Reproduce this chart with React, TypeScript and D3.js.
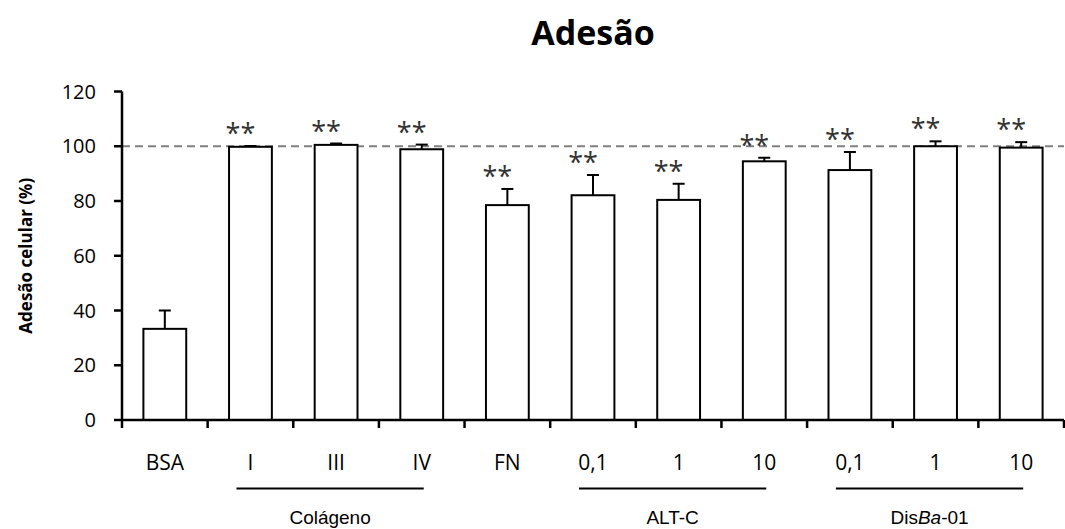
import React from "react";
import * as d3 from "d3";

const categories = ["BSA", "I", "III", "IV", "FN", "0,1", "1", "10", "0,1", "1", "10"];
const values = [33.3, 99.8, 100.5, 98.9, 78.5, 82.1, 80.4, 94.5, 91.3, 100.0, 99.5];
const errors = [6.7, 0.3, 0.5, 1.7, 5.9, 7.4, 5.9, 1.3, 6.6, 1.8, 2.0];
const significant = [false, true, true, true, true, true, true, true, true, true, true];
const yTicks = [0, 20, 40, 60, 80, 100, 120];
const groupLabels = ["Colágeno", "ALT-C", "DisBa-01"];
const groupFrom = [1, 5, 8];
const groupTo = [3, 7, 10];
const referenceValue = 100;

const W = 1065;
const H = 529;
const left = 122;
const right = 1064;
const top = 91.5;
const bottom = 420;

export default function App() {
  const ids = categories.map((_, i) => String(i));
  const x = d3.scaleBand<string>().domain(ids).range([left, right]).paddingInner(0.5).paddingOuter(0.25);
  const y = d3.scaleLinear().domain([0, 120]).range([bottom, top]);
  const step = x.step();
  const bw = x.bandwidth();
  const boundaries = d3.range(categories.length + 1).map((k) => left + k * step);
  const center = (i: number) => (x(String(i)) as number) + bw / 2;
  const font = "'Open Sans', sans-serif";

  return (
    <svg width={W} height={H} style={{ position: "absolute", left: 0, top: 0, background: "#fff" }}>
      <text x={(left + right) / 2} y={45} textAnchor="middle" fontFamily={font} fontWeight="bold" fontSize={34}>
        Adesão
      </text>
      <text
        transform={`translate(32,${(top + bottom) / 2}) rotate(-90)`}
        textAnchor="middle"
        fontFamily={font}
        fontWeight="bold"
        fontSize={17}
      >
        Adesão celular (%)
      </text>
      {/* reference line */}
      <line
        x1={left}
        x2={right}
        y1={y(referenceValue)}
        y2={y(referenceValue)}
        stroke="#808080"
        strokeWidth={2}
        strokeDasharray="8,5"
      />
      {/* bars */}
      {values.map((v, i) => {
        const cx = center(i);
        const et = y(v + errors[i]);
        return (
          <g key={i}>
            <rect x={x(String(i))} y={y(v)} width={bw} height={bottom - y(v)} fill="#fff" stroke="#000" strokeWidth={2} />
            <line x1={cx} x2={cx} y1={y(v)} y2={et} stroke="#000" strokeWidth={2} />
            <line x1={cx - 6} x2={cx + 6} y1={et} y2={et} stroke="#000" strokeWidth={2} />
            {significant[i] && (
              <text x={cx - 10} y={et - 3} textAnchor="middle" fontFamily={font} fontSize={27} fill="#333">
                **
              </text>
            )}
          </g>
        );
      })}
      {/* axes */}
      <line x1={left} x2={left} y1={top} y2={bottom + 1} stroke="#000" strokeWidth={2.5} />
      <line x1={left - 1} x2={right} y1={bottom} y2={bottom} stroke="#000" strokeWidth={2.5} />
      {yTicks.map((t) => (
        <g key={t}>
          <line x1={left - 8} x2={left} y1={y(t)} y2={y(t)} stroke="#000" strokeWidth={2.5} />
          <text x={left - 26} y={y(t)} dy="0.35em" textAnchor="end" fontFamily={font} fontSize={20}>
            {t}
          </text>
        </g>
      ))}
      {boundaries.map((b, k) => (
        <line key={k} x1={b} x2={b} y1={bottom} y2={bottom + 8} stroke="#000" strokeWidth={2.5} />
      ))}
      {categories.map((c, i) => (
        <text key={i} x={center(i)} y={470} textAnchor="middle" fontFamily={font} fontSize={21}>
          {c}
        </text>
      ))}
      {groupLabels.map((g, j) => {
        const x1 = center(groupFrom[j]) - 14;
        const x2 = center(groupTo[j]) + 2;
        const mid = (x1 + x2) / 2;
        return (
          <g key={g}>
            <line x1={x1} x2={x2} y1={488.5} y2={488.5} stroke="#000" strokeWidth={2} />
            <text x={mid} y={524} textAnchor="middle" fontFamily="'Liberation Sans', Arial, sans-serif" fontSize={19}>
              {g === "DisBa-01" ? (
                <>
                  Dis<tspan fontStyle="italic">Ba</tspan>-01
                </>
              ) : (
                g
              )}
            </text>
          </g>
        );
      })}
    </svg>
  );
}
